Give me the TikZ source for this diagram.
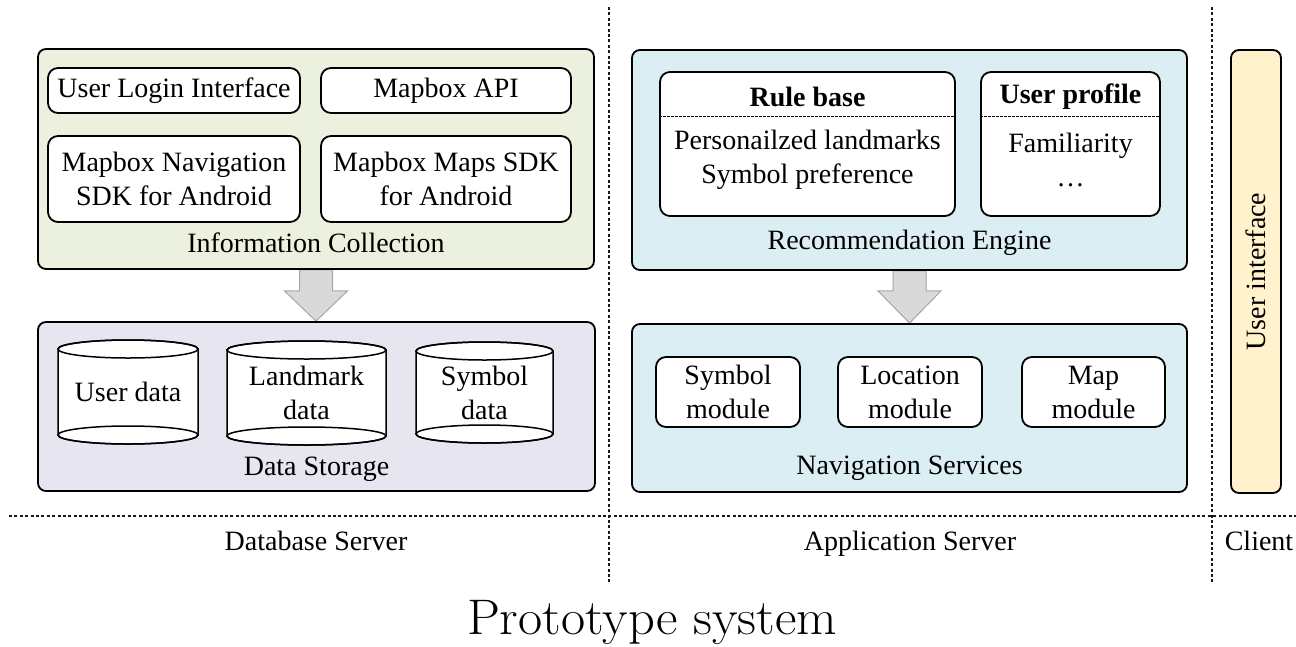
\documentclass[tikz,border=0pt]{standalone}
\usepackage{fontspec}
\newfontfamily\tnr{Liberation Serif}
\usetikzlibrary{calc,backgrounds}

\definecolor{icgreen}{HTML}{EBF1DE}
\definecolor{dslav}{HTML}{E7E5EF}
\definecolor{apblue}{HTML}{DBEEF4}
\definecolor{uiyellow}{HTML}{FFF2CC}
\definecolor{arrowfill}{HTML}{D9D9D9}
\definecolor{arrowline}{HTML}{A6A6A6}

% database cylinder: name, left, right, top, bottom, text
\newcommand{\datacyl}[6]{%
  \pgfmathsetmacro\cylcx{(#2+#3)/2}%
  \pgfmathsetmacro\cylrx{(#3-#2)/2}%
  \pgfmathsetmacro\cylyt{-(#4)-9}%
  \pgfmathsetmacro\cylyb{-(#5)+9}%
  \pgfmathsetmacro\cylym{(\cylyt+\cylyb)/2}%
  \draw[cylbody] (#2,\cylyt) -- (#2,\cylyb)
    arc[start angle=180,end angle=360,x radius=\cylrx,y radius=9]
    -- (#3,\cylyt)
    arc[start angle=0,end angle=180,x radius=\cylrx,y radius=9] -- cycle;
  \draw[cylline] (\cylcx,\cylyt) ellipse[x radius=\cylrx,y radius=9]
                 (\cylcx,\cylyb) ellipse[x radius=\cylrx,y radius=9];
  \node[align=center] (#1) at (\cylcx,\cylym) {#6};
}

\begin{document}
\begin{tikzpicture}[x=1pt,y=1pt,
  every node/.style={font=\tnr\fontsize{28}{34}\selectfont, inner sep=0pt},
  outerbox/.style={draw=black, line width=1.8pt, rounded corners=8pt},
  innerbox/.style={draw=black, fill=white, line width=1.8pt, rounded corners=10pt, align=center},
  divider/.style={draw=black!90, line width=2.2pt, dash pattern=on 3pt off 2.4pt},
  sepline/.style={draw=black, line width=1.2pt, dash pattern=on 2.5pt off 1.5pt},
  blockarrow/.style={fill=arrowfill, draw=arrowline, line width=1pt},
  cylbody/.style={draw=black, fill=white, line width=1.5pt},
  cylline/.style={draw=black, line width=1.5pt},
  boldtxt/.style={font=\tnr\bfseries\fontsize{28}{34}\selectfont}]

\useasboundingbox (0,0) rectangle (1296,-646);

% ---- tier separators ----
\coordinate (v1t) at (609,-7);   \coordinate (v1b) at (609,-582);
\coordinate (v2t) at (1212,-7);  \coordinate (v2b) at (1212,-582);
\coordinate (hl)  at (9,-516);   \coordinate (hr)  at (1296,-516);
\draw[divider] (v1t) -- (v1b);
\draw[divider] (v2t) -- (v2b);
\draw[divider] (hl) -- (hr);

% ---- database server ----
\node[outerbox, fill=icgreen, minimum width=556pt, minimum height=220pt] (info) at (316,-159) {};
\node (infolabel) at (316,-243) {Information Collection};
\node[innerbox, minimum width=252pt, minimum height=45pt] (login) at (174,-90.5) {User Login Interface};
\node[innerbox, minimum width=250pt, minimum height=45pt] (mapapi) at (446,-90.5) {Mapbox API};
\node[innerbox, minimum width=252pt, minimum height=86pt] (navsdk) at (174,-179) {Mapbox Navigation\\SDK for Android};
\node[innerbox, minimum width=250pt, minimum height=86pt] (mapsdk) at (446,-179) {Mapbox Maps SDK\\for Android};

\node[outerbox, fill=dslav, minimum width=557pt, minimum height=169pt] (storage) at (316.5,-406.5) {};
\node (storagelabel) at (316.5,-469) {Data Storage};
\datacyl{userdata}{58}{198}{340}{444}{User data}
\datacyl{landmarkdata}{227}{386}{341}{445}{Landmark\\data}
\datacyl{symboldata}{416}{553}{342}{443}{Symbol\\data}

% ---- application server ----
\node[outerbox, fill=apblue, minimum width=555pt, minimum height=220pt] (recom) at (909.5,-160) {};
\node (recomlabel) at (909.5,-243) {Recommendation Engine};
\node[innerbox, minimum width=295pt, minimum height=144pt] (rulebase) at (807.5,-144) {};
\node[boldtxt] (rbtitle) at (807.5,-97) {Rule base};
\draw[sepline] ($(rulebase.north west)+(0,-45)$) -- ($(rulebase.north east)+(0,-45)$);
\node[align=center] (rbitems) at (807.5,-160) {Personailzed landmarks\\Symbol preference};
\node[innerbox, minimum width=179pt, minimum height=144pt] (profile) at (1070.5,-144) {};
\node[boldtxt] (uptitle) at (1070.5,-97) {User profile};
\draw[sepline] ($(profile.north west)+(0,-45)$) -- ($(profile.north east)+(0,-45)$);
\node[align=center] (upitems) at (1070.5,-160) {Familiarity\\\dots};

\node[outerbox, fill=apblue, minimum width=555pt, minimum height=168pt] (nav) at (909.5,-408) {};
\node (navlabel) at (909.5,-468) {Navigation Services};
\node[innerbox, minimum width=144pt, minimum height=70pt] (symmod) at (728,-392) {Symbol\\module};
\node[innerbox, minimum width=144pt, minimum height=70pt] (locmod) at (910,-392) {Location\\module};
\node[innerbox, minimum width=143pt, minimum height=70pt] (mapmod) at (1093.5,-392) {Map\\module};

% ---- client ----
\node[outerbox, fill=uiyellow, minimum width=50pt, minimum height=443pt] (ui) at (1256,-271.5) {};
\node[rotate=90] (uilabel) at (1256,-271.5) {User interface};

% ---- block arrows between layers ----
\begin{scope}[on background layer]
\draw[blockarrow] ($(info.south)+(-16.5,0)$) |- ($(info.south)+(-31.5,-21)$)
  -- (info.south |- storage.north) -- ($(info.south)+(31.5,-21)$) -| ($(info.south)+(16.5,0)$) -- cycle;
\draw[blockarrow] ($(recom.south)+(-16.5,0)$) |- ($(recom.south)+(-31.5,-20)$)
  -- (recom.south |- nav.north) -- ($(recom.south)+(31.5,-20)$) -| ($(recom.south)+(16.5,0)$) -- cycle;
\end{scope}

% ---- tier names and caption ----
\node[anchor=base] (dblabel) at (316,-550) {Database Server};
\node[anchor=base] (applabel) at (910,-550) {Application Server};
\node[anchor=base] (clientlabel) at (1259,-550) {Client};
\node[anchor=base, font=\rmfamily\fontsize{50}{54}\selectfont] (title) at (652,-634) {\scalebox{1.05}[1]{Prototype system}};

\end{tikzpicture}
\end{document}
